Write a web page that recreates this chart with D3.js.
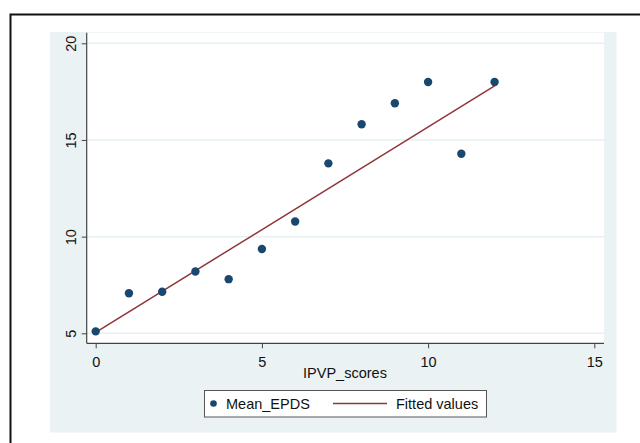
<!DOCTYPE html>
<html>
<head>
<meta charset="utf-8">
<script src="https://cdn.jsdelivr.net/npm/d3@7"></script>
<style>
  body { margin: 0; background: #fff; }
  svg { display: block; font-family: "Liberation Sans", Arial, sans-serif; }
  .axis path, .axis line { stroke: #444; }
  .axis text { fill: #111; font-size: 14.5px; }
</style>
</head>
<body>
<svg id="chart"></svg>
<script>
var ipvpScores = [0, 1, 2, 3, 4, 5, 6, 7, 8, 9, 10, 11, 12];
var meanEpds = [5.1, 7.07, 7.15, 8.2, 7.8, 9.36, 10.78, 13.79, 15.81, 16.9, 18.0, 14.29, 18.0];
var fittedX = [0, 12];
var fittedY = [5.05, 17.8];
var xTicks = [0, 5, 10, 15];
var yTicks = [5, 10, 15, 20];

var width = 640;
var height = 443;
var plot = { left: 86.7, right: 604, top: 32.7, bottom: 343.3 };

var svg = d3.select("#chart")
	.attr("width", width)
	.attr("height", height);

// outer frame
svg.append("rect")
	.attr("x", 10.5).attr("y", 14.5)
	.attr("width", 640).attr("height", 440)
	.attr("fill", "#fff")
	.attr("stroke", "#111")
	.attr("stroke-width", 2);

// graph region
svg.append("rect")
	.attr("x", 50).attr("y", 32)
	.attr("width", 566.5).attr("height", 400.5)
	.attr("fill", "#eaf2f3");

// plot region
svg.append("rect")
	.attr("x", plot.left).attr("y", plot.top)
	.attr("width", plot.right - plot.left).attr("height", plot.bottom - plot.top)
	.attr("fill", "#fff");

var xScale = d3.scaleLinear()
	.domain([0, 15])
	.range([95.7, 594.3]);
var yScale = d3.scaleLinear()
	.domain([5, 20])
	.range([333.3, 43.3]);

// gridlines
svg.append("g")
	.selectAll("line")
	.data(yTicks)
	.enter()
	.append("line")
	.attr("x1", plot.left)
	.attr("x2", plot.right)
	.attr("y1", function (d) { return yScale(d); })
	.attr("y2", function (d) { return yScale(d); })
	.attr("stroke", "#e6eff1")
	.attr("stroke-width", 1.5);

var xAxis = d3.axisBottom(xScale).tickValues(xTicks).tickSize(5).tickSizeOuter(0);
var yAxis = d3.axisLeft(yScale).tickValues(yTicks).tickSize(5).tickSizeOuter(0);

var gx = svg.append("g")
	.classed("axis", true)
	.attr("transform", "translate(0," + plot.bottom + ")")
	.call(xAxis);
gx.select(".domain").remove();
gx.append("line")
	.attr("x1", plot.left).attr("x2", plot.right)
	.attr("stroke", "#444").attr("stroke-width", 1.2);
gx.selectAll(".tick text").attr("dy", "1.05em");

var gy = svg.append("g")
	.classed("axis", true)
	.attr("transform", "translate(" + plot.left + ",0)")
	.call(yAxis);
gy.select(".domain").remove();
gy.append("line")
	.attr("y1", plot.top).attr("y2", plot.bottom)
	.attr("stroke", "#444").attr("stroke-width", 1.2);
gy.selectAll(".tick text")
	.attr("x", 0).attr("dy", 0)
	.attr("text-anchor", "middle")
	.attr("transform", "translate(-11,0) rotate(-90)")
	.attr("dominant-baseline", "auto");

svg.append("text")
	.attr("x", 345).attr("y", 378)
	.attr("text-anchor", "middle")
	.attr("font-size", "14.5px")
	.attr("fill", "#111")
	.text("IPVP_scores");

// fitted line
var line = d3.line()
	.x(function (d, i) { return xScale(fittedX[i]); })
	.y(function (d) { return yScale(d); });
svg.append("path")
	.datum(fittedY)
	.attr("d", line)
	.attr("fill", "none")
	.attr("stroke", "#90353b")
	.attr("stroke-width", 1.5);

// points
svg.append("g")
	.selectAll("circle")
	.data(meanEpds)
	.enter()
	.append("circle")
	.attr("cx", function (d, i) { return xScale(ipvpScores[i]); })
	.attr("cy", function (d) { return yScale(d); })
	.attr("r", 4.2)
	.attr("fill", "#1a476f");

// legend
var legend = svg.append("g");
legend.append("rect")
	.attr("x", 204.5).attr("y", 390.5)
	.attr("width", 282).attr("height", 26.5)
	.attr("fill", "#fff")
	.attr("stroke", "#555")
	.attr("stroke-width", 1);
legend.append("circle")
	.attr("cx", 213.5).attr("cy", 403.5).attr("r", 3.3)
	.attr("fill", "#1a476f");
legend.append("text")
	.attr("x", 226).attr("y", 409)
	.attr("font-size", "14.5px").attr("fill", "#111")
	.text("Mean_EPDS");
legend.append("line")
	.attr("x1", 333).attr("x2", 387)
	.attr("y1", 403.5).attr("y2", 403.5)
	.attr("stroke", "#90353b").attr("stroke-width", 1.5);
legend.append("text")
	.attr("x", 396).attr("y", 409)
	.attr("font-size", "14.5px").attr("fill", "#111")
	.text("Fitted values");
</script>
</body>
</html>
